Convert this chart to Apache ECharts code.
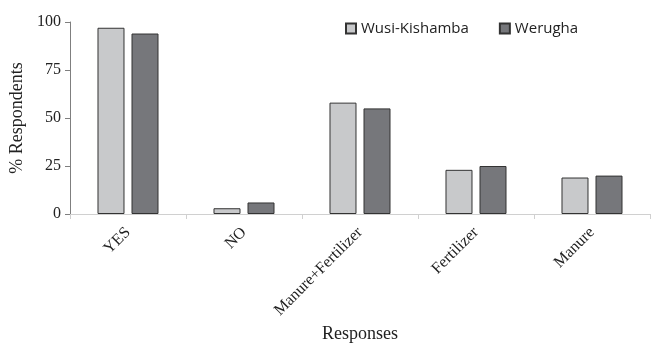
<!DOCTYPE html>
<html>
<head>
<meta charset="utf-8">
<script src="https://cdn.jsdelivr.net/npm/echarts@6/dist/echarts.min.js"></script>
<style>html,body{margin:0;padding:0;background:#fff}#c{width:652px;height:344px}</style>
</head>
<body>
<div id="c"></div>
<script>
const categories = ['YES', 'NO', 'Manure+Fertilizer', 'Fertilizer', 'Manure'];
const wusiKishamba = [97, 3, 58, 23, 19];
const werugha = [94, 6, 55, 25, 20];
const yTicks = [0, 25, 50, 75, 100];

const chart = echarts.init(document.getElementById('c'), null, {renderer: 'canvas'});
chart.setOption({
  animation: false,
  backgroundColor: '#fff',
  legend: {
    left: 340, top: 16,
    itemWidth: 10, itemHeight: 10, itemGap: 30,
    icon: 'rect',
    textStyle: {fontFamily: 'Open Sans', fontSize: 15, color: '#222'},
    data: ['Wusi-Kishamba', 'Werugha']
  },
  grid: {left: 70, right: 2, top: 22, bottom: 130, containLabel: false, outerBoundsMode: 'none'},
  xAxis: {
    type: 'category',
    data: categories,
    name: 'Responses',
    nameLocation: 'middle',
    nameGap: 110,
    nameTextStyle: {fontFamily: 'Liberation Serif', fontSize: 18, color: '#222'},
    axisLine: {lineStyle: {color: '#d0d0d0', width: 1}},
    axisTick: {show: true, length: 5, lineStyle: {color: '#d0d0d0'}},
    axisLabel: {rotate: 45, fontFamily: 'Liberation Serif', fontSize: 16, color: '#222', margin: 16, interval: 0}
  },
  yAxis: {
    type: 'value',
    min: yTicks[0], max: yTicks[yTicks.length - 1], interval: 25,
    name: '% Respondents',
    nameLocation: 'middle',
    nameGap: 40,
    nameRotate: 90,
    nameTextStyle: {fontFamily: 'Liberation Serif', fontSize: 18, color: '#222'},
    axisLine: {show: true, lineStyle: {color: '#7f7f7f', width: 1}},
    axisTick: {show: true, length: 5, lineStyle: {color: '#7f7f7f'}},
    axisLabel: {fontFamily: 'Liberation Serif', fontSize: 16, color: '#222', margin: 9},
    splitLine: {show: false}
  },
  series: [
    {
      name: 'Wusi-Kishamba', type: 'bar', data: wusiKishamba,
      barWidth: 27, barGap: '26%',
      itemStyle: {color: '#c8c9cb', borderColor: '#333', borderWidth: 1}
    },
    {
      name: 'Werugha', type: 'bar', data: werugha,
      barWidth: 27,
      itemStyle: {color: '#76777b', borderColor: '#333', borderWidth: 1}
    }
  ]
});
</script>
</body>
</html>
